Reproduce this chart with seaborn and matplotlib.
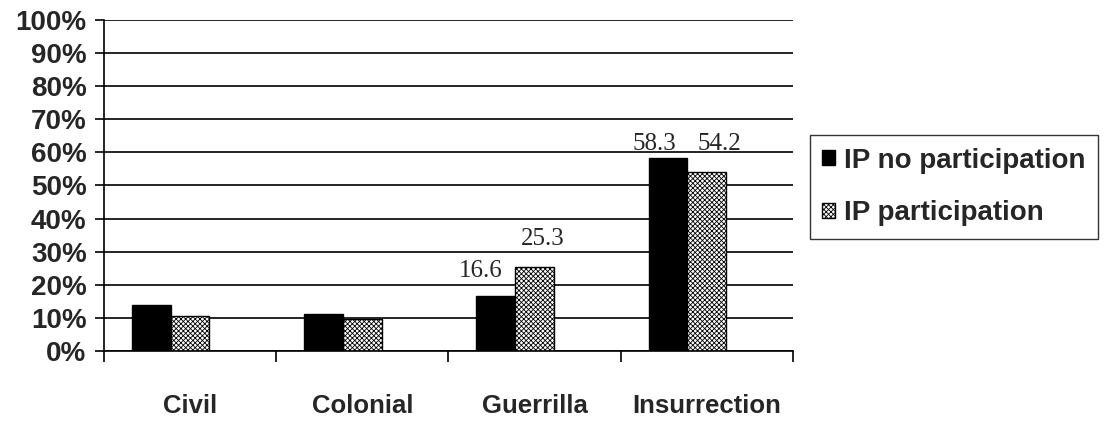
import pandas as pd
import matplotlib
matplotlib.use("Agg")
import matplotlib.pyplot as plt
import seaborn as sns

conflicts = ["Civil", "Colonial", "Guerrilla", "Insurrection"]
no_participation = [13.9, 11.2, 16.6, 58.3]
participation = [10.7, 9.6, 25.3, 54.2]
series = ["IP no participation", "IP participation"]
y_ticks = [0, 10, 20, 30, 40, 50, 60, 70, 80, 90, 100]
y_tick_labels = [f"{v}%" for v in y_ticks]
value_labels = {(2, 0): "16.6", (2, 1): "25.3", (3, 0): "58.3", (3, 1): "54.2"}

data = pd.DataFrame({
    "conflict": conflicts * 2,
    "share": no_participation + participation,
    "group": [series[0]] * 4 + [series[1]] * 4,
})

sns.set_style("white")
plt.rcParams["font.family"] = ["Liberation Sans", "DejaVu Sans"]
plt.rcParams["hatch.color"] = "#555555"
plt.rcParams["hatch.linewidth"] = 0.6

fig = plt.figure(figsize=(11.06, 4.23), dpi=100)
ax = fig.add_axes([0.094, 0.170, 0.623, 0.783])

sns.barplot(data=data, x="conflict", y="share", hue="group",
            palette=["black", "white"], width=0.45, gap=0,
            edgecolor="black", linewidth=1.0, ax=ax, legend=False)

for patch in ax.containers[1]:
    patch.set_hatch("xxxxxxx")

# value labels, nudged like the original
offsets = {(2, 0): (-11, 14), (2, 1): (6, 16), (3, 0): (-10, 6), (3, 1): (9, 15.5)}
for (i, j), text in value_labels.items():
    bar = ax.containers[j][i]
    cx = bar.get_x() + bar.get_width() / 2
    ax.annotate(text, xy=(cx, bar.get_height()), xytext=offsets[(i, j)],
                textcoords="offset points", ha="center", va="baseline",
                fontsize=18, family="Liberation Serif")

# the original draws each bar pair left of its category centre
shift = 0.113
ax.set_ylim(0, 100)
ax.set_xlim(-0.5 + shift, 3.5 + shift)
ax.set_yticks(y_ticks)
ax.set_yticklabels(y_tick_labels, fontsize=20, fontweight="bold")
ax.yaxis.grid(True, color="black", linewidth=1.2)
ax.set_axisbelow(True)
ax.tick_params(axis="y", length=6.5, width=1.2, color="black", pad=6, left=True)

ax.set_xticks([i + shift for i in range(len(conflicts))])
ax.set_xticklabels(conflicts, fontsize=18.5, fontweight="bold")
ax.set_xticks([i - 0.5 + shift for i in range(len(conflicts) + 1)], minor=True)
ax.tick_params(axis="x", which="major", length=0, pad=31)
ax.tick_params(axis="x", which="minor", length=8, width=1.2, color="black", bottom=True)

ax.set_xlabel("")
ax.set_ylabel("")
for side in ["top", "right"]:
    ax.spines[side].set_visible(False)
ax.spines["left"].set_color("black")
ax.spines["left"].set_linewidth(1.2)
ax.spines["bottom"].set_color("black")
ax.spines["bottom"].set_linewidth(1.2)

leg = fig.legend(handles=[ax.containers[0], ax.containers[1]], labels=series,
                 loc="upper left", bbox_to_anchor=(0.732, 0.68),
                 prop={"size": 20, "weight": "bold"}, frameon=True, fancybox=False,
                 handlelength=0.45, handleheight=0.45, handletextpad=0.35,
                 borderpad=0.45, labelspacing=0.95, borderaxespad=0)
leg.get_frame().set_edgecolor("black")
leg.get_frame().set_linewidth(1.0)

fig.savefig("out.png", dpi=100)
